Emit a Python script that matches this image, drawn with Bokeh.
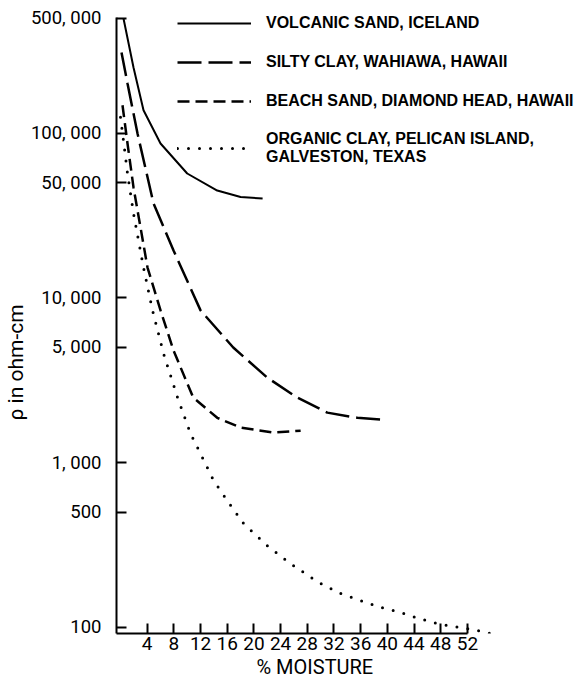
from bokeh.plotting import figure
from bokeh.models import FixedTicker, Legend, LegendItem, Title
from bokeh.embed import file_html
from bokeh.resources import INLINE

# ---- data ----
volcanic_x = [0.45, 1.95, 3.45, 6.0, 10.0, 14.5, 18.0, 21.3]
volcanic_y = [498000, 251000, 138000, 86700, 57000, 44900, 41000, 40200]

silty_x = [0.15, 1.05, 2.55, 4.95, 7.95, 12.0, 16.9, 22.0, 26.5, 31.0, 35.5, 39.3]
silty_y = [310000, 201000, 99700, 37500, 19400, 8400, 5000, 3280, 2480, 2010, 1870, 1820]

beach_x = [0.3, 1.05, 1.95, 4.05, 6.0, 7.95, 10.9, 14.5, 18.0, 22.9, 27.0]
beach_y = [148000, 86700, 46900, 15300, 8400, 4790, 2480, 1870, 1630, 1520, 1560]

organic_x = [0.0, 0.45, 1.05, 1.95, 3.45, 4.8, 6.45, 8.55, 10.5, 12.0, 13.95, 16.0,
             18.45, 22.0, 25.5, 29.7, 33.0, 36.0, 39.0, 42.0, 44.7, 47.5, 49.9, 52.9, 55.5]
organic_y = [125000, 90000, 57000, 32600, 15300, 8400, 4600, 2480, 1500, 1130, 778, 588,
             426, 313, 243, 187, 160, 145, 132, 123, 113, 105, 101, 96.7, 91.4]

series_labels = ["VOLCANIC SAND, ICELAND",
                 "SILTY CLAY, WAHIAWA, HAWAII",
                 "BEACH SAND, DIAMOND HEAD, HAWAII",
                 "ORGANIC CLAY, PELICAN ISLAND,\nGALVESTON, TEXAS"]

y_ticks = [100, 500, 1000, 5000, 10000, 50000, 100000, 500000]
y_tick_labels = ["100", "500", "1, 000", "5, 000", "10, 000", "50, 000", "100, 000", "500, 000"]
x_ticks = [4, 8, 12, 16, 20, 24, 28, 32, 36, 40, 44, 48, 52]

x_title = "% MOISTURE"
y_title = "\u03c1 in ohm-cm"

TICKFONT = "Roboto"

p = figure(width=587, height=680, y_axis_type="log",
           x_range=(-0.6, 70.0), y_range=(91.5, 640900),
           output_backend="svg", toolbar_location=None,
           min_border_left=116, min_border_top=0, min_border_bottom=47,
           min_border_right=0)
p.outline_line_color = None
p.grid.visible = False
p.background_fill_color = "white"
p.border_fill_color = "white"

r1 = p.line(volcanic_x, volcanic_y, line_width=2, color="black")
r2 = p.line(silty_x, silty_y, line_width=2.5, color="black", line_dash="24 7")
r3 = p.line(beach_x, beach_y, line_width=2.5, color="black", line_dash="12 6")
r4 = p.line(organic_x, organic_y, line_width=3, color="black", line_dash="0 11",
            line_cap="round")

# axes
for ax in (p.xaxis[0], p.yaxis[0]):
    ax.axis_line_width = 2
    ax.axis_line_color = "black"
    ax.major_tick_line_width = 2
    ax.major_tick_in = 10
    ax.major_tick_out = 0
    ax.minor_tick_in = 0
    ax.minor_tick_out = 0
    ax.major_label_text_font = TICKFONT
    ax.major_label_text_color = "black"

p.yaxis.ticker = FixedTicker(ticks=y_ticks, minor_ticks=[])
p.yaxis.major_label_overrides = {t: s for t, s in zip(y_ticks, y_tick_labels)}
p.yaxis.major_label_text_font_size = "18.5px"
p.yaxis.major_label_standoff = 15
p.yaxis.bounds = (91.5, 505000)

p.xaxis.ticker = FixedTicker(ticks=x_ticks, minor_ticks=[])
p.xaxis.major_label_text_font_size = "19px"
p.xaxis.major_label_standoff = 3
p.xaxis.bounds = (-0.6, 52)

# axis titles
p.add_layout(Title(text=x_title, align="left", offset=140, standoff=0,
                   text_font=TICKFONT, text_font_size="20px",
                   text_font_style="normal", text_color="black"), "below")
p.add_layout(Title(text=y_title, align="left", offset=213, standoff=0,
                   text_font=TICKFONT, text_font_size="21px",
                   text_font_style="normal", text_color="black"), "left")

legend = Legend(items=[LegendItem(label=series_labels[0], renderers=[r1]),
                       LegendItem(label=series_labels[1], renderers=[r2]),
                       LegendItem(label=series_labels[2], renderers=[r3]),
                       LegendItem(label=series_labels[3], renderers=[r4])],
                location=(61, 467))
legend.label_text_font = "Liberation Sans"
legend.label_text_font_style = "bold"
legend.label_text_font_size = "16px"
legend.label_text_color = "black"
legend.glyph_width = 74
legend.glyph_height = 20
legend.label_height = 20
legend.label_standoff = 15
legend.spacing = 19
legend.padding = 0
legend.margin = 0
legend.border_line_color = None
legend.background_fill_alpha = 0
p.add_layout(legend)

open("out.html", "w").write(file_html(p, INLINE))
